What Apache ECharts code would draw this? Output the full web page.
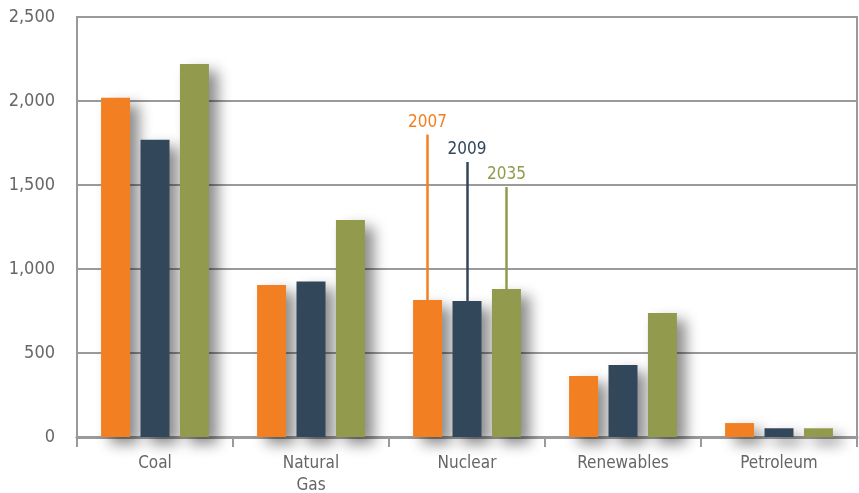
<!DOCTYPE html>
<html>
<head>
<meta charset="utf-8">
<script src="https://cdn.jsdelivr.net/npm/echarts@6/dist/echarts.min.js"></script>
<style>
  html, body { margin: 0; padding: 0; background: #fff; }
  #chart { width: 859px; height: 493px; }
</style>
</head>
<body>
<div id="chart"></div>
<script>
var categories = ["Coal", "Natural\nGas", "Nuclear", "Renewables", "Petroleum"];
var years = ["2007", "2009", "2035"];
var values2007 = [2020, 905, 815, 363, 83];
var values2009 = [1770, 925, 810, 428, 52];
var values2035 = [2220, 1292, 881, 738, 52];
// where the year call-out lines end (top), on the Nuclear group
var calloutTop = [1800, 1637, 1488];
var colors = ["#F28023", "#33475B", "#929A4E"];

var fontFamily = "'Liberation Sans Narrow', 'DejaVu Sans Condensed', sans-serif";

var chart = echarts.init(document.getElementById("chart"));

function makeSeries(i, values) {
  return {
    name: years[i],
    type: "bar",
    barWidth: 29,
    barGap: "36%",
    data: values,
    itemStyle: {
      color: colors[i],
      shadowColor: "rgba(0,0,0,0.45)",
      shadowBlur: 14,
      shadowOffsetX: 9,
      shadowOffsetY: 7
    },
    markLine: {
      symbol: "none",
      silent: true,
      animation: false,
      lineStyle: { color: colors[i], type: "solid", width: 2.5, shadowBlur: 0 },
      label: {
        show: true,
        position: "end",
        formatter: years[i],
        color: colors[i],
        fontFamily: fontFamily,
        fontSize: 17,
        distance: 4
      },
      data: [[
        { coord: [categories[2], values[2]] },
        { coord: [categories[2], calloutTop[i]] }
      ]]
    }
  };
}

var option = {
  animation: false,
  grid: {
    left: 77,
    right: 2,
    top: 17,
    bottom: 56,
    outerBoundsMode: "none",
    containLabel: false,
    show: true,
    borderColor: "#9a9a9c",
    borderWidth: 2,
    backgroundColor: "transparent"
  },
  xAxis: {
    type: "category",
    data: categories,
    axisLine: { lineStyle: { color: "#9a9a9c", width: 3 } },
    axisTick: { show: true, length: 10, lineStyle: { color: "#9a9a9c", width: 2 } },
    axisLabel: {
      color: "#666666",
      fontFamily: fontFamily,
      fontSize: 17,
      margin: 16,
      lineHeight: 22
    }
  },
  yAxis: {
    type: "value",
    min: 0,
    max: 2500,
    interval: 500,
    axisLine: { show: true, lineStyle: { color: "#9a9a9c", width: 2 } },
    axisTick: { show: false },
    splitLine: { lineStyle: { color: "#9a9a9c", width: 2 } },
    axisLabel: {
      color: "#666666",
      fontFamily: fontFamily,
      fontSize: 18,
      margin: 22,
      formatter: function (v) { return v.toLocaleString("en-US"); }
    }
  },
  series: [
    makeSeries(0, values2007),
    makeSeries(1, values2009),
    makeSeries(2, values2035)
  ]
};

chart.setOption(option);
</script>
</body>
</html>
